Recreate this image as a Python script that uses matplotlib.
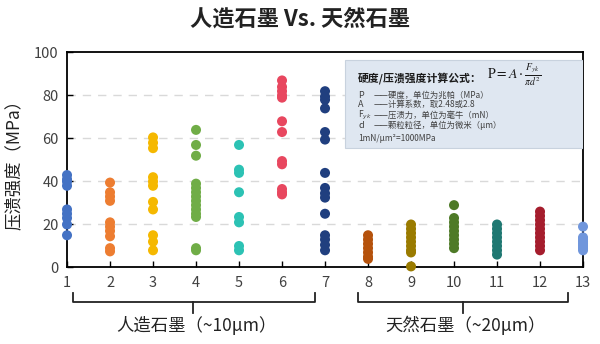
import matplotlib.pyplot as plt
from matplotlib import rcParams
from matplotlib.patches import FancyBboxPatch
import matplotlib.transforms as mtransforms

rcParams['font.family'] = ['Noto Sans CJK SC', 'DejaVu Sans']
rcParams['axes.unicode_minus'] = False

# data: crushing strength (MPa) per sample
samples = list(range(1, 14))
strength = [
    [43, 41, 40, 38, 27, 25, 23, 20, 15],
    [39.5, 35, 33, 31, 21, 19, 17, 14.5, 9, 7.5],
    [60.5, 58, 55.5, 42, 40, 38, 30.5, 27, 15, 12, 8],
    [64, 57, 52, 39, 37, 35, 33, 31, 29, 27, 25, 23.5, 9, 8],
    [57, 45.5, 44, 35, 23.5, 21, 10, 8],
    [87, 84, 82, 80, 79, 68, 63, 49.5, 48, 36.5, 35, 34],
    [82, 79.5, 78, 74, 63, 59.5, 44, 37, 34.5, 32.5, 25, 15, 13, 10.5, 8],
    [15, 13, 11, 9, 7, 5, 4],
    [20, 18, 16, 14, 12, 10, 8, 7, 0.5],
    [29, 23, 21, 19, 17, 15, 13, 11, 9],
    [20, 18, 16, 14, 12, 10, 8, 6],
    [26, 24, 22, 20, 18, 16, 14, 12, 10, 8],
    [19, 14, 13, 12, 11, 10, 9, 8],
]
colors = ['#4472c4', '#ed7d31', '#f5b800', '#70ad47', '#2cc2b4', '#e8475f',
          '#203f7f', '#b5520c', '#9a7b00', '#4e7a27', '#1f7872', '#a51d2d', '#7096dc']
groups = ['人造石墨（~10μm）', '天然石墨（~20μm）']

fig = plt.figure(figsize=(6.0, 3.44), dpi=100)
ax = fig.add_axes([0.1117, 0.2224, 0.86, 0.625])

for x, vals, c in zip(samples, strength, colors):
    ax.scatter([x] * len(vals), vals, s=52, color=c, edgecolors='none',
               zorder=3, clip_on=False)

ax.set_xlim(1, 13)
ax.set_ylim(0, 100)
ax.set_xticks(samples)
ax.set_yticks(range(0, 101, 20))
for y in [20, 40, 60, 80]:
    ax.axhline(y, color='#d9d9d9', ls=(0, (6, 5)), lw=1, zorder=1)
ax.tick_params(direction='in', length=4, width=1, labelsize=10.5,
               labelcolor='#404040', pad=6)
for s in ax.spines.values():
    s.set_linewidth(1.3)

ax.set_ylabel('压溃强度（MPa）', fontsize=12.5, color='#222222', labelpad=8)
fig.text(0.5, 0.945, '人造石墨 Vs. 天然石墨', ha='center', va='center',
         fontsize=16, fontweight='bold', color='#222222')

# brackets under the x axis
tr = mtransforms.blended_transform_factory(ax.transData, ax.transAxes)
brackets = [(1.13, 6.77, 3.93), (7.77, 12.65, 10.2)]
for (x0, x1, xc), label in zip(brackets, groups):
    ax.plot([x0, x0, x1, x1], [-0.12, -0.16, -0.16, -0.12], color='#222222',
            lw=1.3, transform=tr, clip_on=False)
    ax.plot([xc, xc], [-0.16, -0.21], color='#222222', lw=1.3,
            transform=tr, clip_on=False)
    ax.text((x0 + x1) / 2 + 0.05, -0.27, label, transform=tr, ha='center',
            va='center', fontsize=12.5, color='#222222')

# formula box
box = FancyBboxPatch((7.47, 55.6), 13 - 7.47, 96.5 - 55.6,
                     boxstyle='square,pad=0', facecolor='#dfe7f1',
                     edgecolor='#c8d2de', lw=0.8, zorder=4)
ax.add_patch(box)
ax.text(7.77, 88, '硬度/压溃强度计算公式：', fontsize=7.8, fontweight='bold',
        va='center', zorder=5, color='#1a1a1a')
ax.text(10.77, 89.5, r'$\mathrm{P} = A\cdot\frac{F_{yk}}{\pi d^2}$',
        fontsize=10, va='center', zorder=5, math_fontfamily='stix', color='#1a1a1a')
syms = ['P', 'A', r'F$_{yk}$', 'd']
sym_sizes = [6.5, 6.5, 6, 6.5]
descs = ['——硬度，单位为兆帕（MPa）', '——计算系数，取2.48或2.8',
         '——压溃力，单位为毫牛（mN）', '——颗粒粒径，单位为微米（μm）']
ys = [80.2, 75.6, 70.8, 66.0]
for sy, fs, de, yy in zip(syms, sym_sizes, descs, ys):
    ax.text(7.77, yy, sy, fontsize=fs, va='center', zorder=5, color='#404040')
    ax.text(8.12, yy, de, fontsize=6, va='center', zorder=5, color='#404040')
ax.text(7.77, 60.1, '1mN/μm²=1000MPa', fontsize=6, va='center', zorder=5,
        color='#404040')

fig.savefig('out.png', dpi=100)
